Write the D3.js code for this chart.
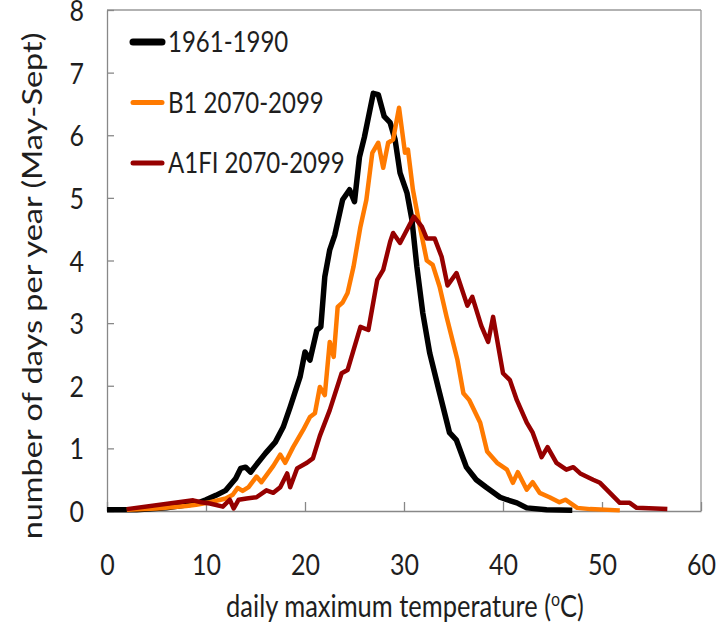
<!DOCTYPE html>
<html>
<head>
<meta charset="utf-8">
<script src="https://cdn.jsdelivr.net/npm/d3@7"></script>
<style>
  html, body { margin: 0; padding: 0; background: #fff; }
  svg text { font-family: Lato, "Open Sans", sans-serif; fill: #1e1e1e; }
</style>
</head>
<body>
<svg id="chart" width="719" height="625"></svg>
<script>
// series names and colours, in legend order
var seriesNames = ["1961-1990", "B1 2070-2099", "A1FI 2070-2099"];
var seriesColors = ["#000000", "#ff7a00", "#960000"];

var xTicks = [0, 10, 20, 30, 40, 50, 60];
var yTicks = [0, 1, 2, 3, 4, 5, 6, 7, 8];

// [temperature (C), days per year]
var baseline = [[0,0.02],[3,0.02],[6,0.05],[9,0.12],[10,0.18],[11,0.25],[12,0.33],[13,0.52],[13.5,0.68],[14,0.7],[14.5,0.62],[15,0.72],[16,0.92],[17,1.1],[17.8,1.34],[18.5,1.66],[19.5,2.14],[20,2.54],[20.5,2.41],[21.2,2.89],[21.6,2.94],[22,3.74],[22.5,4.17],[23,4.4],[23.8,4.97],[24.5,5.13],[25,4.94],[25.5,5.65],[26,5.97],[26.9,6.67],[27.4,6.65],[28,6.3],[28.6,6.2],[29.1,5.93],[29.6,5.4],[30.3,5.08],[30.8,4.65],[31.3,3.9],[31.9,3.16],[32.6,2.52],[33.6,1.88],[34.6,1.25],[35.3,1.13],[36.3,0.7],[37.3,0.5],[38.3,0.38],[39.7,0.22],[40.4,0.18],[41.4,0.13],[42.4,0.05],[44.4,0.02],[47,0.01]];

var b1 = [[2,0.02],[5,0.04],[8,0.08],[9,0.1],[10.4,0.14],[12,0.2],[12.7,0.26],[13.2,0.37],[13.7,0.32],[14.3,0.38],[15.1,0.55],[15.6,0.46],[16.8,0.72],[17.5,0.9],[18,0.77],[18.8,1.02],[19.8,1.29],[20.5,1.5],[21,1.56],[21.5,1.98],[22,1.85],[22.5,2.7],[22.9,2.46],[23.3,3.26],[23.8,3.33],[24.3,3.48],[24.9,3.9],[25.6,4.54],[26.2,4.97],[26.8,5.72],[27.4,5.88],[27.9,5.48],[28.4,5.88],[28.9,5.93],[29.5,6.44],[30.1,5.72],[30.4,5.77],[30.9,5.13],[31.6,4.54],[32.3,4.0],[32.9,3.93],[33.6,3.58],[34.3,3.1],[35.4,2.41],[36,1.88],[36.6,1.77],[37.7,1.41],[38.4,0.95],[39.4,0.77],[40.4,0.66],[41,0.45],[41.5,0.62],[42.4,0.34],[43,0.46],[43.7,0.29],[44.7,0.22],[45.7,0.14],[46.3,0.18],[47.5,0.05],[48.8,0.03],[51.8,0.01]];

var a1fi = [[2,0.03],[8.7,0.17],[9.5,0.14],[10.4,0.12],[11.7,0.07],[12.4,0.18],[12.8,0.04],[13.3,0.18],[14.1,0.2],[15.1,0.22],[16.1,0.33],[16.8,0.29],[17.5,0.38],[18.2,0.6],[18.5,0.38],[19.2,0.68],[20.2,0.77],[20.8,0.84],[21.5,1.2],[22.5,1.61],[23.7,2.2],[24.3,2.25],[25.6,2.94],[26.4,2.89],[27.3,3.69],[27.9,3.85],[28.6,4.3],[28.9,4.44],[29.6,4.28],[30.3,4.49],[31,4.7],[31.8,4.54],[32.3,4.35],[33.1,4.35],[33.8,4.06],[34.4,3.6],[35.3,3.8],[36.4,3.28],[36.9,3.42],[37.8,2.96],[38.5,2.7],[39,3.1],[40,2.2],[40.7,2.09],[41.4,1.77],[42.4,1.41],[43,1.25],[43.9,0.86],[44.5,1.02],[45.4,0.77],[46.4,0.66],[47.1,0.7],[47.8,0.6],[49.1,0.5],[49.8,0.45],[50.8,0.29],[51.8,0.13],[52.8,0.13],[53.5,0.05],[56.6,0.03]];

var allSeries = [baseline, b1, a1fi];

function drawChart() {
  var svg = d3.select("#chart");
  var stretch = 1.18; // the source picture is squashed horizontally

  var x = d3.scaleLinear().domain([0, 60]).range([107, 701]);
  var y = d3.scaleLinear().domain([0, 8]).range([511, 10]);

  // frame top and right
  svg.append("line")
    .attr("x1", x(0)).attr("x2", x(60))
    .attr("y1", y(8)).attr("y2", y(8))
    .attr("stroke", "#999").attr("stroke-width", 1.3);
  svg.append("line")
    .attr("x1", x(60)).attr("x2", x(60))
    .attr("y1", y(8)).attr("y2", y(0))
    .attr("stroke", "#999").attr("stroke-width", 1.3);

  var yAxis = d3.axisLeft(y)
    .tickValues(yTicks)
    .tickFormat(d3.format("d"))
    .tickSizeInner(-7)
    .tickSizeOuter(0)
    .tickPadding(23);

  var xAxis = d3.axisBottom(x)
    .tickValues(xTicks)
    .tickFormat(d3.format("d"))
    .tickSizeInner(-9)
    .tickSizeOuter(0);

  var gy = svg.append("g")
    .attr("transform", "translate(" + x(0) + ",0)")
    .call(yAxis);
  gy.selectAll("text")
    .attr("dy", "0.36em")
    .attr("transform", "scale(1," + stretch + ")")
    .attr("y", 0);

  var gx = svg.append("g")
    .attr("transform", "translate(0," + y(0) + ")")
    .call(xAxis);
  gx.selectAll("text")
    .attr("dy", 0)
    .attr("y", 64 / stretch)
    .attr("transform", "scale(1," + stretch + ")");

  [gx, gy].forEach(function (g) {
    g.selectAll("path, line").attr("stroke", "#888").attr("stroke-width", 1.3);
    g.selectAll("text").attr("font-size", 25).attr("fill", "#1e1e1e")
      .attr("font-family", "Lato, 'Open Sans', sans-serif");
  });

  // the curves, drawn in series order so the later ones sit on top
  var line = d3.line()
    .x(function (d) { return x(d[0]); })
    .y(function (d) { return y(d[1]); });
  var widths = [5.5, 4.5, 4.5];

  svg.append("g")
    .selectAll("path")
    .data(allSeries)
    .enter().append("path")
    .attr("d", line)
    .attr("fill", "none")
    .attr("stroke", function (d, i) { return seriesColors[i]; })
    .attr("stroke-width", function (d, i) { return widths[i]; })
    .attr("stroke-linejoin", "round");

  // legend
  var legend = svg.append("g")
    .selectAll("g")
    .data(seriesNames)
    .enter().append("g")
    .attr("transform", function (d, i) { return "translate(0," + (42 + i * 60.5) + ")"; });

  legend.append("line")
    .attr("x1", 133).attr("x2", 162)
    .attr("stroke", function (d, i) { return seriesColors[i]; })
    .attr("stroke-width", function (d, i) { return i === 0 ? 7 : 5; })
    .attr("stroke-linecap", "round");

  legend.append("text")
    .attr("transform", "translate(168,0) scale(1," + stretch + ")")
    .attr("dy", "0.36em")
    .attr("font-size", 24)
    .text(function (d) { return d; });

  // axis titles
  svg.append("text")
    .attr("transform", "translate(42,286) rotate(-90) scale(1.25,1)")
    .attr("text-anchor", "middle")
    .attr("font-size", 26)
    .text("number of days per year (May-Sept)");

  var xt = svg.append("text")
    .attr("transform", "translate(405,617) scale(1," + stretch + ")")
    .attr("text-anchor", "middle")
    .attr("font-size", 25.5);
  xt.append("tspan").text("daily maximum temperature (");
  xt.append("tspan").attr("font-size", 16).attr("dy", -9).text("o");
  xt.append("tspan").attr("dy", 9).text("C)");
}

drawChart();
</script>
</body>
</html>
